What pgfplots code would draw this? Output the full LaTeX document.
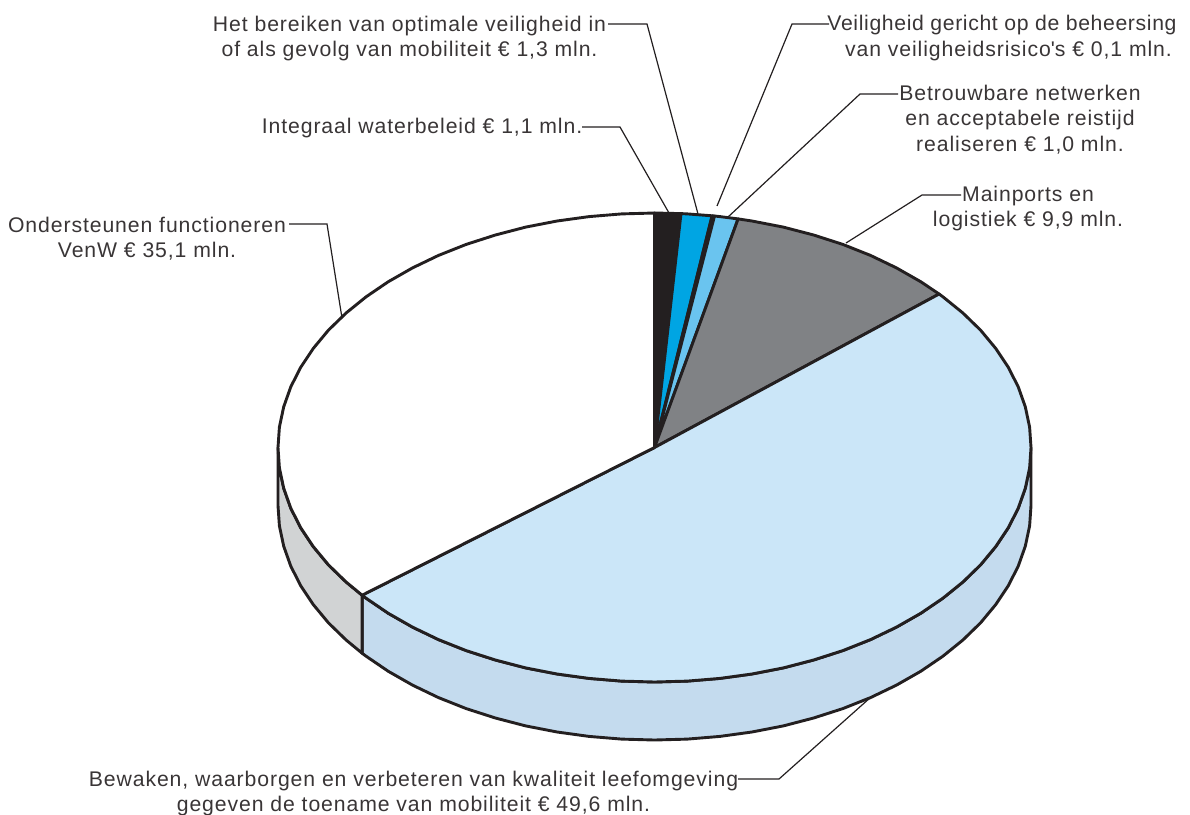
\documentclass[border=0pt]{standalone}
\usepackage{pgfplots}
\usepackage{fontspec}
\setmainfont{Liberation Sans}[LetterSpace=4.3]
\pgfplotsset{compat=1.18}
\definecolor{cBlack}{HTML}{231F20}
\definecolor{cBlue}{HTML}{00A5E3}
\definecolor{cSky}{HTML}{6AC4EF}
\definecolor{cGrey}{HTML}{808285}
\definecolor{cPale}{HTML}{CBE6F8}
\definecolor{cPaleSide}{HTML}{C4DBEE}
\definecolor{cGreySide}{HTML}{D1D3D4}
\tikzset{lab/.style={font=\fontsize{21.2}{25.5}\selectfont,align=center,text=cBlack!90,inner sep=0pt,anchor=center},
  lead/.style={line width=1.2pt,draw=cBlack,line join=miter}}
\begin{document}
\begin{tikzpicture}
\path[use as bounding box] (0,0) rectangle (1190pt,814pt);
\begin{axis}[name=a,scale only axis,width=1190pt,height=814pt,at={(0,0)},anchor=south west,
  xmin=0,xmax=1190,ymin=0,ymax=814,y dir=reverse,hide axis,clip=false,
  every axis plot/.append style={no markers,line width=2.9pt,draw=cBlack,line join=round}]
% side: pale
\addplot[fill=cPaleSide] coordinates {(1031.0,447.5)(1029.6,467.9)(1025.3,488.2)(1018.2,508.2)(1008.3,527.7)(995.7,546.6)(980.6,564.8)(962.9,582.0)(942.9,598.2)(920.7,613.3)(896.5,627.1)(870.5,639.6)(842.8,650.6)(813.6,660.0)(783.3,667.9)(751.9,674.0)(719.9,678.4)(687.3,681.1)(654.5,682.0)(621.7,681.1)(589.1,678.4)(557.1,674.0)(525.7,667.9)(495.4,660.0)(466.2,650.6)(438.5,639.6)(412.5,627.1)(388.3,613.3)(366.1,598.2)(362.1,595.2)
(362.1,653.2)(366.1,656.2)(388.3,671.3)(412.5,685.1)(438.5,697.6)(466.2,708.6)(495.4,718.0)(525.7,725.9)(557.1,732.0)(589.1,736.4)(621.7,739.1)(654.5,740.0)(687.3,739.1)(719.9,736.4)(751.9,732.0)(783.3,725.9)(813.6,718.0)(842.8,708.6)(870.5,697.6)(896.5,685.1)(920.7,671.3)(942.9,656.2)(962.9,640.0)(980.6,622.8)(995.7,604.6)(1008.3,585.7)(1018.2,566.2)(1025.3,546.2)(1029.6,525.9)(1031.0,505.5)} --cycle;
% side: grey
\addplot[fill=cGreySide] coordinates {(362.1,595.2)(346.1,582.0)(328.4,564.8)(313.3,546.6)(300.7,527.7)(290.8,508.2)(283.7,488.2)(279.4,467.9)(278.0,447.5)
(278.0,505.5)(279.4,525.9)(283.7,546.2)(290.8,566.2)(300.7,585.7)(313.3,604.6)(328.4,622.8)(346.1,640.0)(362.1,653.2)} --cycle;
% top: Integraal waterbeleid 1,1
\addplot[fill=cBlack] coordinates {(654.5,447.5)(654.5,213.0)(681.0,213.6)} --cycle;
% top: Het bereiken 1,3
\addplot[fill=cBlue] coordinates {(654.5,447.5)(681.0,213.6)(687.3,213.9)(712.1,215.8)} --cycle;
% top: Veiligheid 0,1
\addplot[fill=cBlack] coordinates {(654.5,447.5)(712.1,215.8)(714.5,216.0)} --cycle;
% top: Betrouwbare netwerken 1,0
\addplot[fill=cSky] coordinates {(654.5,447.5)(714.5,216.0)(719.9,216.6)(738.1,218.9)} --cycle;
% top: Mainports 9,9
\addplot[fill=cGrey] coordinates {(654.5,447.5)(738.1,218.9)(751.9,221.0)(783.3,227.1)(813.6,235.0)(842.8,244.4)(870.5,255.4)(896.5,267.9)(920.7,281.7)(939.1,294.0)} --cycle;
% top: Bewaken 49,6
\addplot[fill=cPale] coordinates {(654.5,447.5)(939.1,294.0)(942.9,296.8)(962.9,313.0)(980.6,330.2)(995.7,348.4)(1008.3,367.3)(1018.2,386.8)(1025.3,406.8)(1029.6,427.1)(1031.0,447.5)(1029.6,467.9)(1025.3,488.2)(1018.2,508.2)(1008.3,527.7)(995.7,546.6)(980.6,564.8)(962.9,582.0)(942.9,598.2)(920.7,613.3)(896.5,627.1)(870.5,639.6)(842.8,650.6)(813.6,660.0)(783.3,667.9)(751.9,674.0)(719.9,678.4)(687.3,681.1)(654.5,682.0)(621.7,681.1)(589.1,678.4)(557.1,674.0)(525.7,667.9)(495.4,660.0)(466.2,650.6)(438.5,639.6)(412.5,627.1)(388.3,613.3)(366.1,598.2)(362.1,595.2)} --cycle;
% top: Ondersteunen 35,1
\addplot[fill=white] coordinates {(654.5,447.5)(362.1,595.2)(346.1,582.0)(328.4,564.8)(313.3,546.6)(300.7,527.7)(290.8,508.2)(283.7,488.2)(279.4,467.9)(278.0,447.5)(279.4,427.1)(283.7,406.8)(290.8,386.8)(300.7,367.3)(313.3,348.4)(328.4,330.2)(346.1,313.0)(366.1,296.8)(388.3,281.7)(412.5,267.9)(438.5,255.4)(466.2,244.4)(495.4,235.0)(525.7,227.1)(557.1,221.0)(589.1,216.6)(621.7,213.9)(654.5,213.0)} --cycle;
% leaders
\draw[lead] (axis cs:582,127)--(axis cs:620,127)--(axis cs:669,213);
\draw[lead] (axis cs:608,24)--(axis cs:647,24)--(axis cs:698,214);
\draw[lead] (axis cs:829,24)--(axis cs:792,24)--(axis cs:717,206);
\draw[lead] (axis cs:898,94)--(axis cs:860,94)--(axis cs:728,217);
\draw[lead] (axis cs:961,195)--(axis cs:922,195)--(axis cs:846,243);
\draw[lead] (axis cs:289,224)--(axis cs:327,224)--(axis cs:342,318);
\draw[lead] (axis cs:738,779)--(axis cs:779,779)--(axis cs:871,697);
% labels
\node[lab] at (axis cs:409.5,38.5) {Het bereiken van optimale veiligheid in\\of als gevolg van mobiliteit € 1,3 mln.};
\node[lab] at (axis cs:422,128.5) {Integraal waterbeleid € 1,1 mln.};
\node[lab] at (axis cs:1002,25.5) {\addfontfeature{LetterSpace=3}Veiligheid gericht op de beheersing};
\node[lab] at (axis cs:1008.5,51) {van veiligheidsrisico\textquotesingle s € 0,1 mln.};
\node[lab] at (axis cs:1020,119.5) {Betrouwbare netwerken\\en acceptabele reistijd\\realiseren € 1,0 mln.};
\node[lab] at (axis cs:1028,208.5) {Mainports en\\logistiek € 9,9 mln.};
\node[lab] at (axis cs:147,238.5) {Ondersteunen functioneren\\VenW € 35,1 mln.};
\node[lab] at (axis cs:413.5,793.5) {Bewaken, waarborgen en verbeteren van kwaliteit leefomgeving\\gegeven de toename van mobiliteit € 49,6 mln.};
\end{axis}
\end{tikzpicture}
\end{document}
